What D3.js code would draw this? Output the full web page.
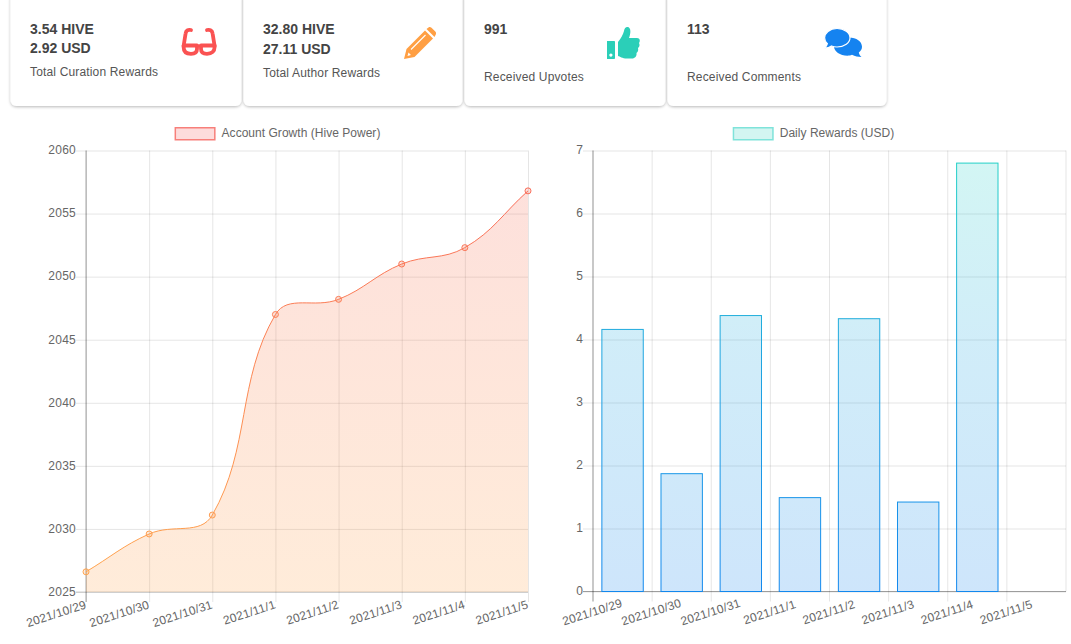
<!DOCTYPE html>
<html><head><meta charset="utf-8">
<script src="https://cdn.jsdelivr.net/npm/d3@7/dist/d3.min.js"></script>
<style>
html,body{margin:0;padding:0;background:#fff;overflow:hidden}
svg{display:block;font-family:"Liberation Sans",Arial,sans-serif}
</style></head><body>
<svg id="c" width="1071" height="644"></svg>
<script>
const dates = ["2021/10/29","2021/10/30","2021/10/31","2021/11/1","2021/11/2","2021/11/3","2021/11/4","2021/11/5"];
const hivePower = [2026.6,2029.6,2031.1,2047.0,2048.2,2051.0,2052.3,2056.8];
const dailyRewards = [4.16,1.87,4.38,1.49,4.33,1.42,6.80,0];
const hpTicks = [2025,2030,2035,2040,2045,2050,2055,2060];
const usdTicks = [0,1,2,3,4,5,6,7];
const cardLines = [["3.54 HIVE","2.92 USD"],["32.80 HIVE","27.11 USD"],["991"],["113"]];
const cardLabels = ["Total Curation Rewards","Total Author Rewards","Received Upvotes","Received Comments"];
const legendHP = "Account Growth (Hive Power)";
const legendUSD = "Daily Rewards (USD)";

const svg = d3.select("#c");
const defs = svg.append("defs");
const plotTop=150.5, plotBottom=591.5;
function grad(id,c1,c2,o,mid){
  const g=defs.append("linearGradient").attr("id",id).attr("gradientUnits","userSpaceOnUse")
    .attr("x1",0).attr("x2",0).attr("y1",plotTop).attr("y2",plotBottom);
  g.append("stop").attr("offset",0).attr("stop-color",c1).attr("stop-opacity",o);
  if(mid) g.append("stop").attr("offset",0.45).attr("stop-color",mid).attr("stop-opacity",o);
  g.append("stop").attr("offset",1).attr("stop-color",c2).attr("stop-opacity",o);
}
grad("lineS","#f8675a","#ffa64d",1);
grad("lineF","#f5604f","#ff9f43",0.2);
grad("barS","#22d3c5","#1288ee",1,"#1fa6e0");
grad("barF","#22d3c5","#0a7fec",0.2,"#16a3e0");
const sh=defs.append("filter").attr("id","sh").attr("x","-5%").attr("y","-10%").attr("width","110%").attr("height","125%");
sh.append("feDropShadow").attr("dx",0).attr("dy",1).attr("stdDeviation",1.6).attr("flood-color","#000").attr("flood-opacity",0.28);

/* Bezier interpolation with tension 0.4, computed from neighbouring points */
function tensionCurve(context){
  let pts=[], mode=NaN;
  const t=0.4;
  return {
    areaStart(){mode=0;},
    areaEnd(){mode=NaN;},
    lineStart(){pts=[];},
    point(x,y){pts.push([+x,+y]);},
    lineEnd(){
      const n=pts.length;
      if(n){
        if(mode) context.lineTo(pts[0][0],pts[0][1]); else context.moveTo(pts[0][0],pts[0][1]);
        const cp=pts.map((p,i)=>{
          const a=pts[Math.max(i-1,0)], b=pts[Math.min(i+1,n-1)];
          const d1=Math.hypot(p[0]-a[0],p[1]-a[1]), d2=Math.hypot(b[0]-p[0],b[1]-p[1]);
          const sum=(d1+d2)||1, fa=t*d1/sum, fb=t*d2/sum;
          return {px:p[0]-fa*(b[0]-a[0]),py:p[1]-fa*(b[1]-a[1]),nx:p[0]+fb*(b[0]-a[0]),ny:p[1]+fb*(b[1]-a[1])};
        });
        for(let i=1;i<n;i++) context.bezierCurveTo(cp[i-1].nx,cp[i-1].ny,cp[i].px,cp[i].py,pts[i][0],pts[i][1]);
      }
      if(mode===1) context.closePath();
      mode=1-mode;
    }
  };
}

/* cards */
const cardX=[[10,242],[243,463],[464,666],[667,887]];
const textX=[30,263,484,687];
const firstY=[[34,53],[34,54],[34],[34]];
const labelY=[76,77,81,81];
cardX.forEach((c,i)=>{
  svg.append("rect").attr("x",c[0]+.5).attr("y",-8).attr("width",c[1]-c[0]-1).attr("height",114)
    .attr("rx",6).attr("fill","#fff").attr("filter","url(#sh)");
  cardLines[i].forEach((t,j)=>svg.append("text").attr("x",textX[i]).attr("y",firstY[i][j])
    .attr("font-size",14).attr("font-weight",700).attr("fill","#444").text(t));
  svg.append("text").attr("x",textX[i]).attr("y",labelY[i]).attr("font-size",12).attr("letter-spacing",0.16).attr("fill","#555").text(cardLabels[i]);
});
/* icons */
const gl=svg.append("g").attr("fill","none").attr("stroke","#fa5252").attr("stroke-width",3.8).attr("stroke-linecap","round");
gl.append("path").attr("d","M183.6 46 L185.6 33.5 C186 30.5 188 29.3 191 30 M214.6 46 L212.6 33.5 C212.2 30.5 210 29.3 207 30");
gl.append("path").attr("d","M183.6 45.5 H197 V49 C197 52.2 195 53.8 191 53.8 C186 53.8 183.6 51 183.6 47 Z M201 45.5 H214.6 V47 C214.6 51 212 53.8 207 53.8 C203 53.8 201 52.2 201 49 Z").attr("stroke-linejoin","round");
gl.append("path").attr("d","M197 46 H201").attr("stroke-width",3);
svg.append("path").attr("fill","#ff9f43").attr("fill-rule","evenodd")
  .attr("d","M404 59 L406.5 49 L425 30.5 L433 38.5 L414.5 57 Z M407.5 56 L411 55 L408.5 52.5 Z M426.5 29 L428.5 27.5 C429.5 26.8 430.5 27 431.5 27.8 L435.5 31.8 C436.3 32.8 436.3 34 435.5 35 L434.5 37 Z");
svg.append("path").attr("fill","none").attr("stroke","#fff").attr("stroke-width",1.1).attr("d","M411 49.5 L425.5 35");
svg.append("path").attr("fill","#2bcfb8").attr("fill-rule","evenodd")
  .attr("d","M607 41 H614 C614.6 41 615 41.4 615 42 V58 C615 58.6 614.6 59 614 59 H607 Z M610.9 53.5 a1.6 1.6 0 1 0 .01 0 Z M618 42 C621 38 623 35 624 31 C624.5 28 626 26.5 628 27 C631 28 631 33 629 38 H637 C640 38 640.5 41 639 43 C640 45 639.5 47 638 48 C638.5 50 638 52 636.5 53 C637 56 635 58.5 632 58.5 H627 C622 58.5 620 56.5 618 56 Z");
const cm=svg.append("g").attr("fill","#1583f0");
cm.append("path").attr("d","M849 37.5 C856.5 37.5 862 41.5 862 46.8 C862 49.2 860.8 51 858.8 52.6 C859.2 54.3 860 55.8 861.5 57 C858 57 855 56.2 852 54.8 C850.4 55.5 849 55.7 847.5 55.7 C840 55.7 834 51.5 834 46.5 Z");
cm.append("path").attr("stroke","#fff").attr("stroke-width",1.2).attr("d","M837 28.5 C829.5 28.5 824.6 33.2 824.6 37.8 C824.6 40.2 825.6 42 827.4 43.6 C827 45.2 826.1 46.8 824.6 48.2 C827.5 48.2 830 47.2 831.5 46 C833.5 46.8 835 47 837 47 C844.4 47 850 42.8 850 37.8 C850 32.8 844.4 28.5 837 28.5 Z");

function legend(cx,label,stroke,fill){
  const w=41;
  const t=svg.append("text").attr("y",136.5).attr("font-size",12).attr("letter-spacing",0.03).attr("fill","#666").text(label);
  const lw=t.node().getComputedTextLength();
  const total=w+6+lw, x0=cx-total/2;
  t.attr("x",x0+w+6);
  svg.append("rect").attr("x",x0+.75).attr("y",127.75).attr("width",w-1.5).attr("height",12).attr("fill",fill).attr("stroke",stroke).attr("stroke-width",1.5);
}
legend(277.5,legendHP,"#f77f7a","#fddcdc");
legend(813.5,legendUSD,"#7fe3da","#d3f5f1");

const gridC="rgba(0,0,0,0.1)", axisC="rgba(0,0,0,0.35)", tickC="#666";

/* Chart 1 */
{
  const L=86,R=528;
  const x=d3.scalePoint().domain(dates).range([L,R]);
  const y=d3.scaleLinear().domain([2025,2060]).range([592,150.5]);
  const g=svg.append("g");
  const gy=g.append("g").attr("transform",`translate(${L},0)`).call(d3.axisLeft(y).tickValues(hpTicks).tickSize(-(R-L)).tickSizeOuter(0).tickFormat(d3.format("d")));
  gy.select(".domain").remove();
  gy.selectAll("line").attr("stroke",gridC).attr("x1",-10);
  gy.selectAll("text").attr("font-size",12).attr("letter-spacing",0.25).attr("fill",tickC).attr("font-family",null).attr("x",-10).attr("dy","0.32em").attr("y",-0.5);
  const gx=g.append("g").attr("transform",`translate(0,592)`).call(d3.axisBottom(x).tickSize(-(592-150.5)).tickSizeOuter(0));
  gx.select(".domain").remove();
  gx.selectAll("line").attr("stroke",gridC).attr("y1",10);
  gx.selectAll("text").attr("font-size",12).attr("letter-spacing",0.2).attr("fill",tickC).attr("font-family",null)
    .attr("text-anchor","end").attr("y",0).attr("dy",0)
    .attr("transform","translate(0.5,16) rotate(-18)");
  g.append("line").attr("x1",L).attr("x2",L).attr("y1",150.5).attr("y2",602).attr("stroke",axisC);
  g.append("line").attr("x1",L-10).attr("x2",R).attr("y1",592).attr("y2",592).attr("stroke","rgba(0,0,0,0.2)");
  const area=d3.area().x((d,i)=>x(dates[i])).y0(592).y1(d=>y(d)).curve(tensionCurve);
  const line=d3.line().x((d,i)=>x(dates[i])).y(d=>y(d)).curve(tensionCurve);
  svg.append("path").datum(hivePower).attr("d",area).attr("fill","url(#lineF)");
  svg.append("path").datum(hivePower).attr("d",line).attr("fill","none").attr("stroke","url(#lineS)").attr("stroke-width",1);
  svg.selectAll(".pt").data(hivePower).enter().append("circle").attr("class","pt")
    .attr("cx",(d,i)=>x(dates[i])).attr("cy",d=>y(d)).attr("r",3)
    .attr("fill","url(#lineF)").attr("stroke","url(#lineS)").attr("stroke-width",1);
}
/* Chart 2 */
{
  const L=593,R=1066;
  const x=d3.scaleBand().domain(dates).range([L,R]).paddingInner(0).paddingOuter(0);
  const y=d3.scaleLinear().domain([0,7]).range([591.5,150.5]);
  const g=svg.append("g");
  const gy=g.append("g").attr("transform",`translate(${L},0)`).call(d3.axisLeft(y).tickValues(usdTicks).tickSize(-(R-L)).tickSizeOuter(0).tickFormat(d3.format("d")));
  gy.select(".domain").remove();
  gy.selectAll("line").attr("stroke",gridC).attr("x1",-10);
  gy.selectAll("text").attr("font-size",12).attr("fill",tickC).attr("font-family",null).attr("x",-10).attr("dy","0.32em").attr("y",-1);
  const bw=x.bandwidth();
  const gx=g.append("g").attr("transform",`translate(${-bw/2},591.5)`).call(d3.axisBottom(x).tickSize(-(591.5-150.5)).tickSizeOuter(0));
  gx.select(".domain").remove();
  gx.selectAll("line").attr("stroke",gridC).attr("y1",10);
  gx.selectAll("text").attr("font-size",12).attr("letter-spacing",0.2).attr("fill",tickC).attr("font-family",null)
    .attr("text-anchor","middle").attr("y",0).attr("dy",0)
    .attr("transform","translate(0.5,24.5) rotate(-18)");
  g.append("line").attr("x1",R).attr("x2",R).attr("y1",150.5).attr("y2",591.5).attr("stroke",gridC);
  g.append("line").attr("x1",L).attr("x2",L).attr("y1",150.5).attr("y2",601.5).attr("stroke",axisC);
  g.append("line").attr("x1",L-10).attr("x2",R).attr("y1",591.5).attr("y2",591.5).attr("stroke",axisC);
  const barPad=bw*0.15;
  svg.selectAll(".bar").data(dailyRewards).enter().filter(d=>d>0).append("rect").attr("class","bar")
    .attr("x",(d,i)=>x(dates[i])+barPad).attr("width",bw-2*barPad)
    .attr("y",d=>y(d)).attr("height",d=>y(0)-y(d))
    .attr("fill","url(#barF)").attr("stroke","url(#barS)").attr("stroke-width",1);
}
</script></body></html>
